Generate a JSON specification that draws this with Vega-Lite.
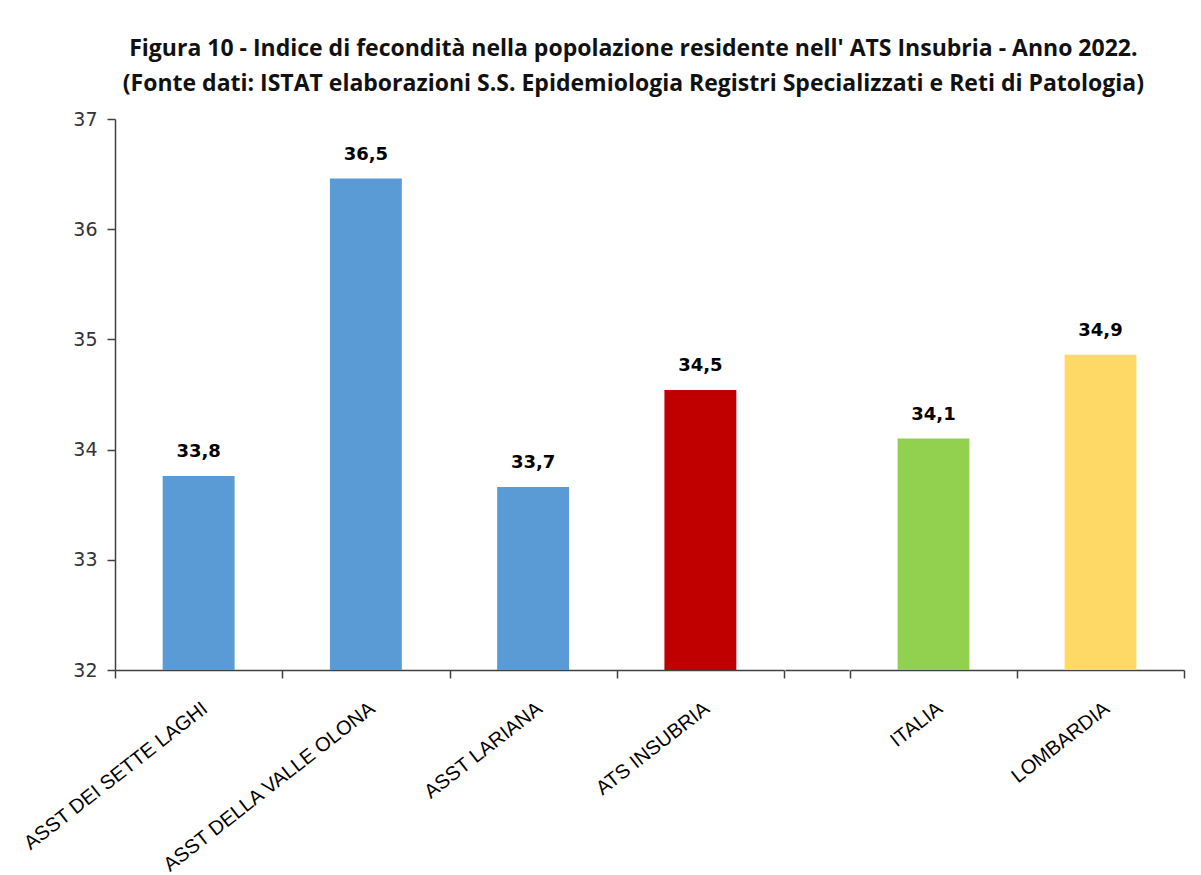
{
  "$schema": "https://vega.github.io/schema/vega-lite/v6.json",
  "background": "white",
  "padding": {"left": 19, "top": 38, "right": 12, "bottom": 5},
  "config": {
    "locale": {"number": {"decimal": ",", "thousands": ".", "grouping": [3], "currency": ["€", ""]}},
    "view": {"stroke": null},
    "axis": {"domainColor": "#404040", "domainWidth": 1.5, "tickColor": "#404040", "tickWidth": 1.5, "tickSize": 8, "grid": false}
  },
  "title": {
    "text": ["Figura 10 - Indice di fecondità nella popolazione residente nell' ATS Insubria  - Anno 2022.", "(Fonte dati: ISTAT  elaborazioni S.S. Epidemiologia Registri Specializzati e Reti di Patologia)"],
    "font": "Open Sans",
    "fontSize": 23,
    "fontWeight": "bold",
    "color": "#111111",
    "lineHeight": 35,
    "offset": 14,
    "anchor": "middle",
    "dx": 31
  },
  "spacing": 0,
  "hconcat": [
    {
      "width": 669,
      "height": 551,
      "data": {"values": [
        {"area": "ASST DEI SETTE LAGHI", "valore": 33.76},
        {"area": "ASST DELLA VALLE OLONA", "valore": 36.46},
        {"area": "ASST LARIANA", "valore": 33.66},
        {"area": "ATS INSUBRIA", "valore": 34.54}
      ]},
      "encoding": {
        "x": {"field": "area", "type": "nominal", "sort": null,
          "scale": {"paddingInner": 0, "paddingOuter": 0},
          "axis": {"title": null, "labelAngle": -38, "labelAlign": "right", "labelBaseline": "top", "tickBand": "extent", "labelFont": "Liberation Sans", "labelFontSize": 20, "labelColor": "#000000", "labelPadding": 20, "labelLimit": 0}},
        "y": {"field": "valore", "type": "quantitative",
          "scale": {"domain": [32, 37], "zero": false, "nice": false, "clamp": true},
          "axis": {"title": null, "values": [32, 33, 34, 35, 36, 37], "labelFont": "DejaVu Sans", "labelFontSize": 19, "labelColor": "#333333", "labelPadding": 10}}
      },
      "layer": [
        {"mark": {"type": "bar", "width": {"band": 0.43}},
          "encoding": {"color": {"field": "area", "type": "nominal",
            "scale": {"domain": ["ASST DEI SETTE LAGHI", "ASST DELLA VALLE OLONA", "ASST LARIANA", "ATS INSUBRIA", "ITALIA", "LOMBARDIA"], "range": ["#5B9BD5", "#5B9BD5", "#5B9BD5", "#C00000", "#92D050", "#FFD966"]},
            "legend": null}}},
        {"mark": {"type": "text", "font": "DejaVu Sans", "fontSize": 18, "fontWeight": "bold", "color": "#000000", "baseline": "alphabetic", "dy": -19},
          "encoding": {"text": {"field": "valore", "type": "quantitative", "format": ".1f"}}}
      ]
    },
    {
      "width": 64,
      "height": 551,
      "data": {"values": [{"area": " "}]},
      "mark": {"type": "tick", "opacity": 0},
      "encoding": {
        "x": {"field": "area", "type": "nominal",
          "scale": {"paddingInner": 0, "paddingOuter": 0},
          "axis": {"title": null, "labels": false, "ticks": false}}
      }
    },
    {
      "width": 334,
      "height": 551,
      "data": {"values": [
        {"area": "ITALIA", "valore": 34.1},
        {"area": "LOMBARDIA", "valore": 34.86}
      ]},
      "encoding": {
        "x": {"field": "area", "type": "nominal", "sort": null,
          "scale": {"paddingInner": 0, "paddingOuter": 0},
          "axis": {"title": null, "labelAngle": -38, "labelAlign": "right", "labelBaseline": "top", "tickBand": "extent", "labelFont": "Liberation Sans", "labelFontSize": 20, "labelColor": "#000000", "labelPadding": 20, "labelLimit": 0}},
        "y": {"field": "valore", "type": "quantitative",
          "scale": {"domain": [32, 37], "zero": false, "nice": false, "clamp": true},
          "axis": null}
      },
      "layer": [
        {"mark": {"type": "bar", "width": {"band": 0.43}},
          "encoding": {"color": {"field": "area", "type": "nominal",
            "scale": {"domain": ["ASST DEI SETTE LAGHI", "ASST DELLA VALLE OLONA", "ASST LARIANA", "ATS INSUBRIA", "ITALIA", "LOMBARDIA"], "range": ["#5B9BD5", "#5B9BD5", "#5B9BD5", "#C00000", "#92D050", "#FFD966"]},
            "legend": null}}},
        {"mark": {"type": "text", "font": "DejaVu Sans", "fontSize": 18, "fontWeight": "bold", "color": "#000000", "baseline": "alphabetic", "dy": -19},
          "encoding": {"text": {"field": "valore", "type": "quantitative", "format": ".1f"}}}
      ]
    }
  ]
}
